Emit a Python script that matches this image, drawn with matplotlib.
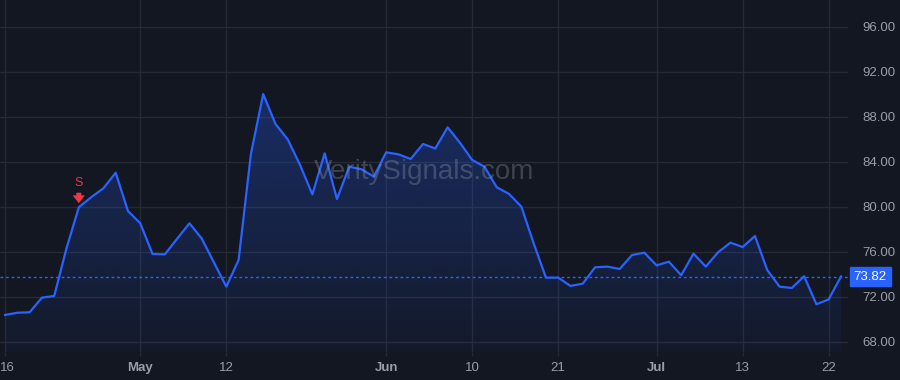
import matplotlib
matplotlib.use('Agg')

import numpy as np
import matplotlib.pyplot as plt
from matplotlib.transforms import ScaledTranslation

# price series (one value per session)
prices = [
    70.40, 70.60, 70.64, 71.94, 72.09, 76.33, 79.97, 80.86, 81.66, 83.05,
    79.64, 78.55, 75.82, 75.79, 77.18, 78.55, 77.20, 75.05, 72.92, 75.29,
    84.71, 90.04, 87.38, 86.00, 83.73, 81.12, 84.77, 80.71, 83.58, 83.35,
    82.70, 84.86, 84.68, 84.27, 85.60, 85.20, 87.08, 85.72, 84.18, 83.58,
    81.75, 81.16, 80.03, 76.77, 73.72, 73.72, 72.98, 73.19, 74.64, 74.70,
    74.49, 75.73, 75.94, 74.81, 75.14, 73.93, 75.85, 74.70, 75.97, 76.83,
    76.44, 77.42, 74.40, 72.92, 72.80, 73.84, 71.35, 71.79, 73.82,
]
tick_idx = [0, 11, 18, 31, 38, 45, 53, 60, 67]
tick_labels = ['16', 'May', '12', 'Jun', '10', '21', 'Jul', '13', '22']
month_labels = {'May', 'Jun', 'Jul'}
y_ticks = [68, 72, 76, 80, 84, 88, 92, 96]
signal_idx = 6
signal_text = 'S'
last_price = prices[-1]

BG = '#131722'
GRID = '#262a35'
LINE = '#2962ff'
TXT = '#9a9da6'
RED = '#f23645'

plt.rcParams['font.family'] = ['Liberation Sans', 'DejaVu Sans']

x = np.arange(len(prices))
y = np.array(prices)

fig = plt.figure(figsize=(9, 3.8), dpi=100, facecolor=BG)
ax = fig.add_axes([0, 28 / 380, 848 / 900, 352 / 380])
ax.set_facecolor(BG)

ymin, ymax = 67.11, 98.4
ax.set_xlim(-0.41, len(prices) - 1 + 0.57)
ax.set_ylim(ymin, ymax)

# gradient fill under the line
fill = ax.fill_between(x, y, ymin, color='none', lw=0)
grad = np.linspace(0.30, 0.04, 256).reshape(-1, 1)
rgba = np.zeros((256, 1, 4))
rgba[..., 0] = 41 / 255
rgba[..., 1] = 98 / 255
rgba[..., 2] = 255 / 255
rgba[..., 3] = grad
img = ax.imshow(rgba, aspect='auto', origin='upper',
                extent=[x[0], x[-1], ymin, y.max()], zorder=1)
img.set_clip_path(fill.get_paths()[0], transform=ax.transData)

ax.plot(x, y, color=LINE, lw=1.6, zorder=3)

# last price line
ax.axhline(last_price, color=LINE, lw=1, ls=(0, (2, 2)), zorder=2)

# grid
ax.set_xticks(tick_idx)
ax.set_yticks(y_ticks)
ax.grid(True, color=GRID, lw=1, zorder=0)
ax.set_axisbelow(True)

ax.yaxis.tick_right()
ax.set_yticklabels([f'{v:.2f}' for v in y_ticks])
ax.set_xticklabels(tick_labels)
for lab in ax.get_xticklabels():
    if lab.get_text() in month_labels:
        lab.set_fontweight('bold')
        lab.set_color('#a3a6af')
ax.tick_params(axis='y', colors=TXT, labelsize=9.5, length=0, pad=10)
ax.tick_params(axis='x', colors=TXT, labelsize=9.5, length=3, pad=4,
               color=GRID)
# keep the first date label inside the figure
first = ax.get_xticklabels()[0]
first.set_transform(first.get_transform() +
                    ScaledTranslation(2 / 100, 0, fig.dpi_scale_trans))
for s in ax.spines.values():
    s.set_visible(False)

# price tag
ax.annotate(f'{last_price:.2f}', xy=(1.0, last_price),
            xycoords=('axes fraction', 'data'),
            xytext=(4, 0), textcoords='offset points',
            ha='left', va='center', color='white', fontsize=9.5,
            bbox=dict(boxstyle='square,pad=0.3', fc=LINE, ec=LINE),
            annotation_clip=False)

# sell signal marker
ax.annotate('', xy=(signal_idx, prices[signal_idx]), xycoords='data',
            xytext=(0, 10.5), textcoords='offset points',
            arrowprops=dict(arrowstyle='simple,head_width=1.1,head_length=0.7,tail_width=0.45',
                            mutation_scale=8, color=RED, lw=0,
                            shrinkA=0, shrinkB=3), zorder=4)
ax.annotate(signal_text, xy=(signal_idx, prices[signal_idx]), xycoords='data',
            xytext=(0, 13), textcoords='offset points',
            color=RED, ha='center', va='bottom', fontsize=9, zorder=4)

# watermark
ax.text(0.5, 0.51, 'VeritySignals.com', transform=ax.transAxes,
        ha='center', va='center', fontsize=20, family='Liberation Sans',
        color=(0.6, 0.62, 0.66, 0.32), zorder=5)

fig.savefig('out.png', dpi=100, facecolor=BG)
